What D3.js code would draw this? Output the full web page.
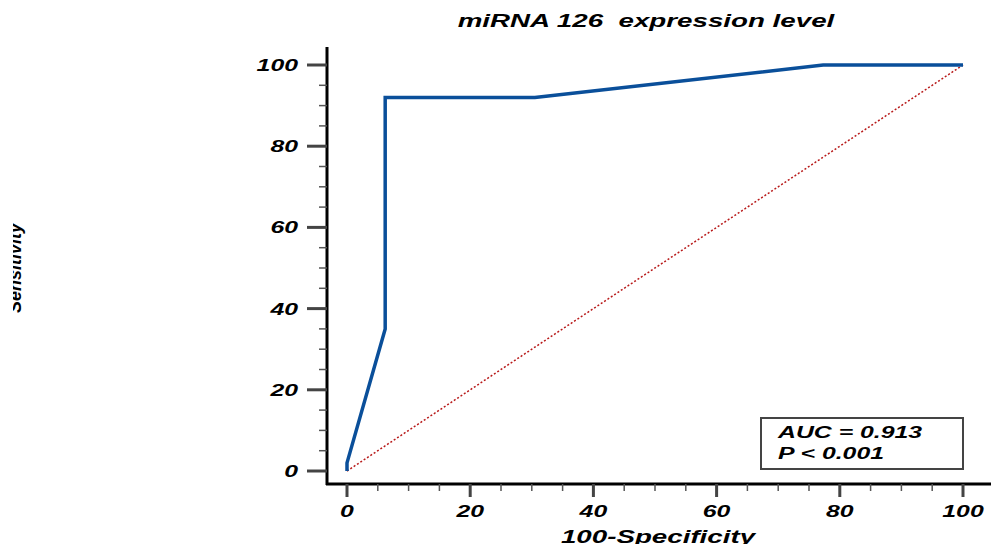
<!DOCTYPE html>
<html>
<head>
<meta charset="utf-8">
<script src="https://cdn.jsdelivr.net/npm/d3@7"></script>
<style>
  body { margin: 0; background: #fff; }
  text { font-family: "Liberation Sans", Arial, sans-serif; font-weight: bold; font-style: italic; fill: #000; white-space: pre; }
</style>
</head>
<body>
<svg id="chart" width="991" height="544"></svg>
<script>
// ROC curve points (100-Specificity, Sensitivity)
const rocX = [0, 0, 6.2, 6.2, 30.5, 77.3, 100];
const rocY = [0, 2, 35, 92, 92, 100, 100];
const majorTicks = [0, 20, 40, 60, 80, 100];
const minorTicks = d3.range(0, 101, 5).filter(d => d % 20 !== 0);
const titleText = 'miRNA 126  expression level';
const xLabel = '100-Specificity';
const yLabel = 'Sensitivity';
const statLines = ['AUC = 0.913', 'P < 0.001'];

const svg = d3.select('#chart');
const stretch = 1.46; // text in the original is wide

const x = d3.scaleLinear().domain([0, 100]).range([347, 963]);
const y = d3.scaleLinear().domain([0, 100]).range([471, 65]);

function addText(g, px, py, str, size, anchor) {
  return g.append('text')
    .attr('transform', `translate(${px},${py}) scale(${stretch},1)`)
    .attr('font-size', size)
    .attr('text-anchor', anchor)
    .attr('xml:space', 'preserve')
    .text(str);
}

// title
addText(svg, 646, 27, titleText, 19, 'middle');

// axis lines
svg.append('line').attr('x1', 327).attr('x2', 327).attr('y1', 47).attr('y2', 485)
  .attr('stroke', '#000').attr('stroke-width', 3);
svg.append('line').attr('x1', 326).attr('x2', 991).attr('y1', 484).attr('y2', 484)
  .attr('stroke', '#000').attr('stroke-width', 3);

// y ticks
svg.selectAll('.ymaj').data(majorTicks).enter().append('line')
  .attr('x1', 307).attr('x2', 327)
  .attr('y1', d => y(d)).attr('y2', d => y(d))
  .attr('stroke', '#444').attr('stroke-width', 3);
svg.selectAll('.ymin').data(minorTicks).enter().append('line')
  .attr('x1', 319).attr('x2', 327)
  .attr('y1', d => y(d)).attr('y2', d => y(d))
  .attr('stroke', '#555').attr('stroke-width', 1.5);
majorTicks.forEach(d => addText(svg, 298, y(d) + 6, String(d), 17, 'end'));

// x ticks
svg.selectAll('.xmaj').data(majorTicks).enter().append('line')
  .attr('x1', d => x(d)).attr('x2', d => x(d))
  .attr('y1', 484).attr('y2', 497)
  .attr('stroke', '#444').attr('stroke-width', 3);
svg.selectAll('.xmin').data(minorTicks).enter().append('line')
  .attr('x1', d => x(d)).attr('x2', d => x(d))
  .attr('y1', 484).attr('y2', 491)
  .attr('stroke', '#555').attr('stroke-width', 1.5);
majorTicks.forEach(d => addText(svg, x(d), 517, String(d), 17, 'middle'));

// axis labels
addText(svg, 658, 543, xLabel, 19, 'middle');
svg.append('clipPath').attr('id', 'ylabClip')
  .append('rect').attr('x', 13).attr('y', 0).attr('width', 60).attr('height', 544);
svg.append('g').attr('clip-path', 'url(#ylabClip)')
  .append('text')
  .attr('transform', 'translate(21,268) rotate(-90)')
  .attr('font-size', 18)
  .attr('text-anchor', 'middle')
  .text(yLabel);

// reference diagonal
svg.append('line')
  .attr('x1', x(0)).attr('y1', y(0)).attr('x2', x(100)).attr('y2', y(100))
  .attr('stroke', '#b81a1a').attr('stroke-width', 1.5)
  .attr('stroke-dasharray', '2,2');

// ROC curve
const rocData = rocX.map((d, i) => [d, rocY[i]]);
svg.append('path')
  .datum(rocData)
  .attr('fill', 'none')
  .attr('stroke', '#0a4f9a')
  .attr('stroke-width', 3.5)
  .attr('stroke-linejoin', 'miter')
  .attr('d', d3.line().x(d => x(d[0])).y(d => y(d[1])));

// stats box
svg.append('rect')
  .attr('x', 761).attr('y', 418).attr('width', 202).attr('height', 51)
  .attr('fill', '#fff').attr('stroke', '#444').attr('stroke-width', 2);
statLines.forEach((s, i) => addText(svg, 778, 438 + i * 21, s, 17, 'start'));
</script>
</body>
</html>
